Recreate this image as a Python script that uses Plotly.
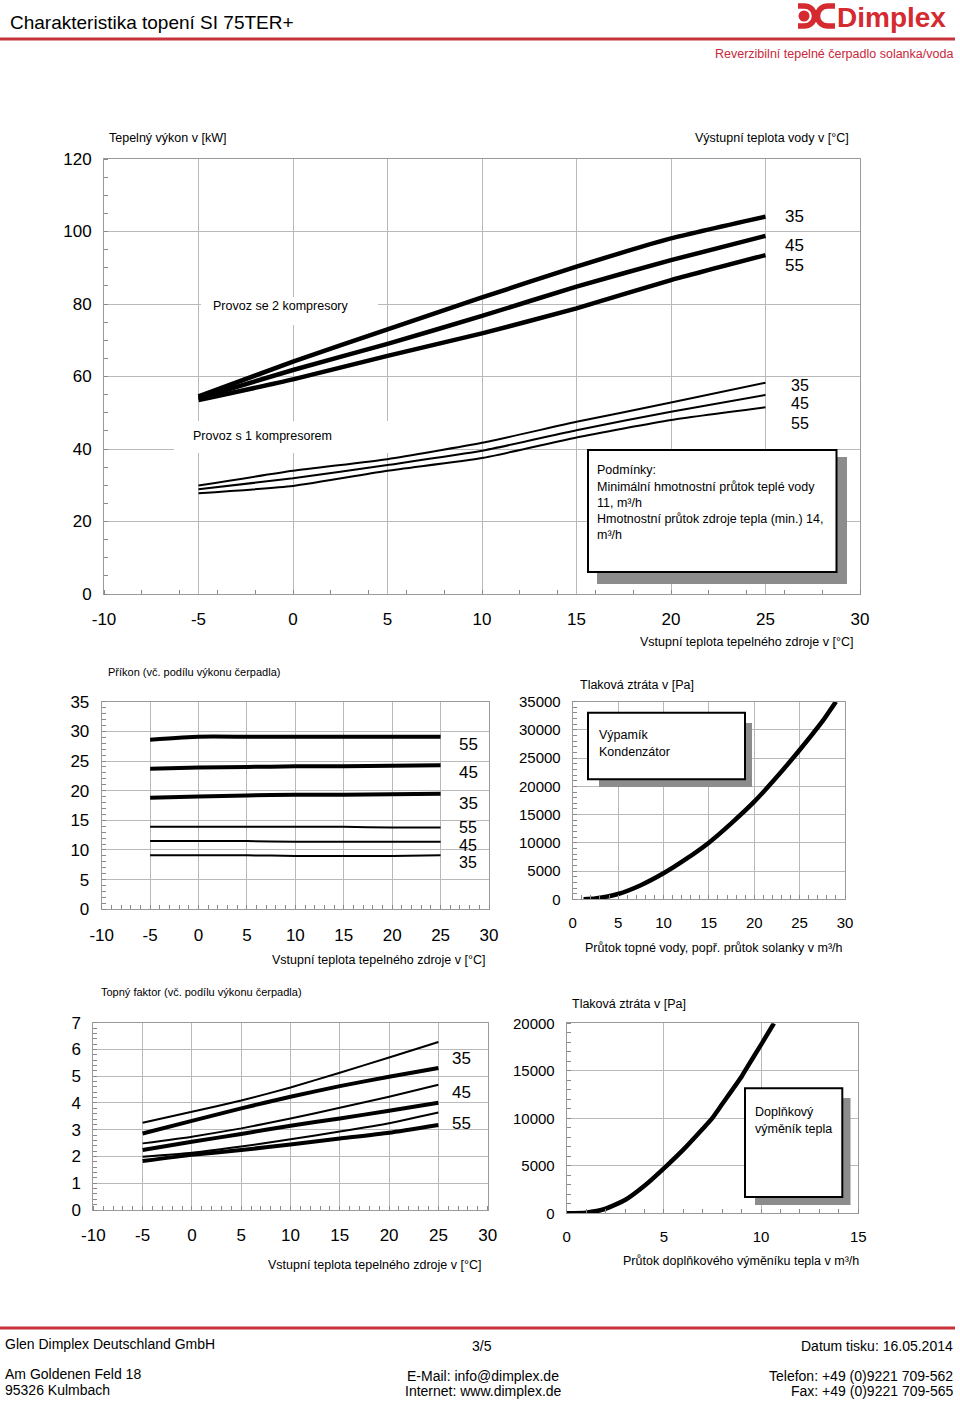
import plotly.graph_objects as go

W, H = 960, 1401
FONT = "Arial, Liberation Sans, sans-serif"

# ---------------- data ----------------
t_src = [-5, 0, 5, 10, 15, 20, 25]
t_ticks = [-10, -5, 0, 5, 10, 15, 20, 25, 30]

# heating capacity [kW], 2 compressors
cap2_35 = [54.5, 64.1, 73.0, 81.8, 90.3, 98.1, 104.1]
cap2_45 = [54.0, 61.8, 69.0, 76.7, 84.8, 92.1, 98.8]
cap2_55 = [53.5, 59.2, 65.7, 71.9, 78.8, 86.6, 93.5]
# heating capacity [kW], 1 compressor
cap1_35 = [29.9, 34.0, 37.2, 41.7, 47.5, 52.8, 58.3]
cap1_45 = [28.9, 31.9, 35.6, 39.5, 45.2, 50.3, 54.9]
cap1_55 = [27.8, 29.8, 34.0, 37.5, 43.2, 48.0, 51.5]
cap_ticks = [0, 20, 40, 60, 80, 100, 120]

# power input [kW]
pin2_55 = [28.6, 29.1, 29.1, 29.1, 29.1, 29.1, 29.1]
pin2_45 = [23.7, 23.9, 24.0, 24.1, 24.1, 24.2, 24.3]
pin2_35 = [18.8, 19.0, 19.2, 19.3, 19.3, 19.4, 19.5]
pin1_55 = [13.9, 13.9, 13.9, 13.9, 13.9, 13.8, 13.8]
pin1_45 = [11.5, 11.5, 11.5, 11.4, 11.4, 11.4, 11.4]
pin1_35 = [9.1, 9.1, 9.1, 9.0, 9.0, 9.0, 9.1]
pin_ticks = [0, 5, 10, 15, 20, 25, 30, 35]

# COP
cop1_35 = [3.26, 3.67, 4.09, 4.58, 5.13, 5.70, 6.28]
cop2_35 = [2.86, 3.33, 3.80, 4.23, 4.63, 4.98, 5.31]
cop1_45 = [2.49, 2.74, 3.05, 3.42, 3.82, 4.23, 4.68]
cop2_45 = [2.24, 2.55, 2.84, 3.15, 3.42, 3.71, 4.01]
cop1_55 = [1.99, 2.14, 2.37, 2.64, 2.93, 3.24, 3.64]
cop2_55 = [1.83, 2.06, 2.24, 2.45, 2.67, 2.89, 3.18]
cop_ticks = [0, 1, 2, 3, 4, 5, 6, 7]

# pressure loss evaporator / condenser
flow_a = [1.2, 2.5, 5, 7.5, 10, 12.5, 15, 17.5, 20, 22.5, 25, 27.5, 29.0]
dp_a = [0, 150, 944, 2500, 4604, 7150, 10034, 13500, 17293, 21700, 26442, 31500, 35000]
flow_a_ticks = [0, 5, 10, 15, 20, 25, 30]
dp_a_ticks = [0, 5000, 10000, 15000, 20000, 25000, 30000, 35000]

# pressure loss additional heat exchanger
flow_b = [0, 1, 2, 3, 4, 5.14, 6, 7, 7.48, 8, 9, 9.17, 10, 10.66]
dp_b = [0, 70, 480, 1400, 2900, 5000, 6700, 8900, 10000, 11500, 14400, 15000, 17750, 20000]
flow_b_ticks = [0, 5, 10, 15]
dp_b_ticks = [0, 5000, 10000, 15000, 20000]

flow_labels = ["35", "45", "55"]


def px(x):
    return x / W


def py(y):
    return 1 - y / H


def lab(v):
    return ("-%g" % abs(v)) if v < 0 else ("%g" % v if abs(v) < 1e5 else str(v))


fig = go.Figure()

thick = dict(color="black", width=4.5, shape="spline", smoothing=0.5)
thin = dict(color="black", width=2, shape="spline", smoothing=0.5)

# top chart
for ys in (cap2_35, cap2_45, cap2_55):
    fig.add_trace(go.Scatter(x=t_src, y=ys, mode="lines", line=thick, xaxis="x", yaxis="y"))
for ys in (cap1_35, cap1_45, cap1_55):
    fig.add_trace(go.Scatter(x=t_src, y=ys, mode="lines", line=thin, xaxis="x", yaxis="y"))
# power input
for ys in (pin2_55, pin2_45, pin2_35):
    fig.add_trace(go.Scatter(x=t_src, y=ys, mode="lines", line=dict(thick, width=4), xaxis="x2", yaxis="y2"))
for ys in (pin1_55, pin1_45, pin1_35):
    fig.add_trace(go.Scatter(x=t_src, y=ys, mode="lines", line=thin, xaxis="x2", yaxis="y2"))
# pressure loss A
fig.add_trace(go.Scatter(x=flow_a, y=dp_a, mode="lines", line=dict(thick, width=4.5), xaxis="x3", yaxis="y3"))
# COP
for ys in (cop1_35, cop1_45, cop1_55):
    fig.add_trace(go.Scatter(x=t_src, y=ys, mode="lines", line=thin, xaxis="x4", yaxis="y4"))
for ys in (cop2_35, cop2_45, cop2_55):
    fig.add_trace(go.Scatter(x=t_src, y=ys, mode="lines", line=dict(thick, width=4), xaxis="x4", yaxis="y4"))
# pressure loss B
fig.add_trace(go.Scatter(x=flow_b, y=dp_b, mode="lines", line=dict(thick, width=4.5), xaxis="x5", yaxis="y5"))


def axis(rng, vals, dom, anchor, minor_dtick, fsize=17, standoff=8):
    return dict(
        range=rng, tickmode="array", tickvals=vals, ticktext=[lab(v) for v in vals],
        domain=dom, anchor=anchor, automargin=False,
        showgrid=True, gridcolor="#b9b9b9", gridwidth=1,
        showline=True, linecolor="#9a9a9a", linewidth=1, mirror=True,
        ticks="", zeroline=False, fixedrange=True,
        tickfont=dict(size=fsize, color="black", family=FONT),
        ticklabelstandoff=standoff,
        minor=dict(ticks="inside", ticklen=4, tickcolor="#8a8a8a", dtick=minor_dtick,
                   tick0=rng[0], showgrid=False, tickmode="linear"),
    )


# plot rectangles in pixels: (left, top, right, bottom)
R1 = (104, 159, 860, 594)
R2 = (101.7, 701.7, 489, 909.3)
R3 = (572.7, 701.7, 845, 899.3)
R4 = (93.3, 1022.7, 487.7, 1210)
R5 = (566.7, 1023.3, 858.3, 1213.3)


def xd(r):
    return [px(r[0]), px(r[2])]


def yd(r):
    return [py(r[3]), py(r[1])]


layout = dict(
    width=W, height=H, margin=dict(l=0, r=0, t=0, b=0, pad=0, autoexpand=False),
    paper_bgcolor="white", plot_bgcolor="white", showlegend=False,
    font=dict(family=FONT, color="black"),
    xaxis=axis([-10, 30], t_ticks, xd(R1), "y", 2, standoff=10),
    yaxis=axis([0, 120], cap_ticks, yd(R1), "x", 5),
    xaxis2=axis([-10, 30], t_ticks, xd(R2), "y2", 1, standoff=10),
    yaxis2=axis([0, 35], pin_ticks, yd(R2), "x2", 1),
    xaxis3=axis([0, 30], flow_a_ticks, xd(R3), "y3", 1, fsize=15, standoff=10),
    yaxis3=axis([0, 35000], dp_a_ticks, yd(R3), "x3", 1000, fsize=15),
    xaxis4=axis([-10, 30], t_ticks, xd(R4), "y4", 1, standoff=10),
    yaxis4=axis([0, 7], cop_ticks, yd(R4), "x4", 0.2),
    xaxis5=axis([0, 15], flow_b_ticks, xd(R5), "y5", 1, fsize=15, standoff=10),
    yaxis5=axis([0, 20000], dp_b_ticks, yd(R5), "x5", 1000, fsize=15),
)
fig.update_layout(**layout)

shapes = []
annotations = []


def rect(x0, y0, x1, y1, fill, line_color=None, lw=0):
    shapes.append(dict(type="rect", xref="paper", yref="paper",
                       x0=px(x0), x1=px(x1), y0=py(y1), y1=py(y0),
                       fillcolor=fill, layer="above",
                       line=dict(color=line_color or fill, width=lw)))


def gap_rect(x0, y0, x1, y1):
    # white label background in the top chart: above gridlines, below curves
    def dx(p):
        return -10 + (p - R1[0]) / (R1[2] - R1[0]) * 40

    def dy(p):
        return (R1[3] - p) / (R1[3] - R1[1]) * 120

    shapes.append(dict(type="rect", xref="x", yref="y", x0=dx(x0), x1=dx(x1), y0=dy(y1), y1=dy(y0),
                       fillcolor="white", layer="between", line=dict(width=0)))


def text(x, y, s, size=12.5, anchor="left", color="black", bold=False, fam=FONT):
    annotations.append(dict(xref="paper", yref="paper", x=px(x), y=py(y), text=("<b>%s</b>" % s) if bold else s,
                            showarrow=False, xanchor=anchor, yanchor="middle",
                            font=dict(size=size, color=color, family=fam)))


def hline(x0, x1, y, color, width):
    shapes.append(dict(type="line", xref="paper", yref="paper", x0=px(x0), x1=px(x1),
                       y0=py(y), y1=py(y), line=dict(color=color, width=width), layer="above"))


def path(pts, color, width, fill=None):
    # pts: list of (cmd, [(x,y),...]) in pixels
    d = ""
    for cmd, ps in pts:
        d += cmd + " ".join("%.5f,%.5f" % (px(a), py(b)) for a, b in ps) + " "
    shapes.append(dict(type="path", xref="paper", yref="paper", path=d.strip(),
                       line=dict(color=color, width=width), fillcolor=fill, layer="above"))


RED = "#d42a30"
LX = 12  # logo symbol horizontal shift

# header
text(8, 22, "Charakteristika topení SI 75TER+", size=19)
text(948, 18, "Dimplex", size=28, anchor="right", color=RED, bold=True)
# logo symbol
path([("M", [(786 + LX, 6)]), ("L", [(792 + LX, 6)]),
      ("C", [(806 + LX, 6), (806 + LX, 26), (792 + LX, 26)]), ("L", [(786 + LX, 26)])], RED, 5.5)
shapes.append(dict(type="circle", xref="paper", yref="paper", x0=px(786.5 + LX), x1=px(797.5 + LX),
                   y0=py(21.5), y1=py(10.5), fillcolor=RED, line=dict(color=RED, width=0), layer="above"))
path([("M", [(823 + LX, 6)]), ("L", [(816 + LX, 6)]),
      ("C", [(802 + LX, 6), (802 + LX, 26), (816 + LX, 26)]), ("L", [(823 + LX, 26)])], RED, 5.5)
hline(0, 955, 39, "#c8323a", 3)
text(955, 54, "Reverzibilní tepelné čerpadlo solanka/voda", size=12.5, anchor="right", color="#c8283a")

# footer
hline(0, 955, 1328, "#c8323a", 3)
text(3, 1344, "Glen Dimplex Deutschland GmbH", size=14)
text(482, 1346, "3/5", size=14, anchor="center")
text(955, 1346, "Datum tisku: 16.05.2014", size=14, anchor="right")
text(3, 1374, "Am Goldenen Feld 18", size=14)
text(3, 1390, "95326 Kulmbach", size=14)
text(483, 1376, "E-Mail: info@dimplex.de", size=14, anchor="center")
text(483, 1391, "Internet: www.dimplex.de", size=14, anchor="center")
text(955, 1376, "Telefon: +49 (0)9221 709-562", size=14, anchor="right")
text(955, 1391, "Fax: +49 (0)9221 709-565", size=14, anchor="right")

# top chart texts
text(107, 138, "Tepelný výkon v [kW]")
text(851, 138, "Výstupní teplota vody v [°C]", anchor="right")
text(855, 642, "Vstupní teplota tepelného zdroje v [°C]", anchor="right")
gap_rect(201, 297, 378, 325)
text(211, 306, "Provoz se 2 kompresory")
gap_rect(174, 421, 450, 453)
text(191, 436, "Provoz s 1 kompresorem")
for lb, yy in zip(flow_labels, (217, 245, 265)):
    text(783, yy, lb, size=17)
for lb, yy in zip(flow_labels, (386, 403, 423)):
    text(789, yy, lb, size=16)
rect(597, 457, 847, 584, "#8c8c8c")
rect(588, 450, 836.5, 572, "white", "black", 2)
for s, yy in zip(["Podmínky:", "Minimální hmotnostní průtok teplé vody", "11, m³/h",
                  "Hmotnostní průtok zdroje tepla (min.) 14,", "m³/h"],
                 (470, 486.5, 502.5, 519, 535)):
    text(595, yy, s, size=12.5)

# power input chart texts
text(106, 672, "Příkon (vč. podílu výkonu čerpadla)", size=11)
text(487, 960, "Vstupní teplota tepelného zdroje v [°C]", anchor="right")
for lb, yy, fs in zip(["55", "45", "35", "55", "45", "35"], (744, 772, 803, 827, 845, 863),
                      (17, 17, 17, 16, 16, 16)):
    text(457, yy, lb, size=fs)

# pressure loss A texts
text(578, 685, "Tlaková ztráta v [Pa]")
text(583, 948, "Průtok topné vody, popř. průtok solanky v m³/h", size=12.5)
rect(599, 723, 752, 787, "#8c8c8c")
rect(588, 712.7, 745, 779.3, "white", "black", 2)
text(597, 735, "Výpamík", size=12.5)
text(597, 752, "Kondenzátor", size=12.5)

# COP chart texts
text(99, 992, "Topný faktor (vč. podílu výkonu čerpadla)", size=11)
text(483, 1265, "Vstupní teplota tepelného zdroje v [°C]", anchor="right")
for lb, yy in zip(flow_labels, (1058, 1092, 1123)):
    text(450, yy, lb, size=17)

# pressure loss B texts
text(570, 1004, "Tlaková ztráta v [Pa]")
text(621, 1261, "Průtok doplňkového výměníku tepla v m³/h", size=12.5)
rect(755, 1098, 850.5, 1205, "#8c8c8c")
rect(745, 1088.3, 842.3, 1197, "white", "black", 2)
text(753, 1112, "Doplňkový", size=12.5)
text(753, 1129, "výměník tepla", size=12.5)

fig.update_layout(shapes=shapes, annotations=annotations)
fig.write_html("out.html", config={"displayModeBar": False, "staticPlot": True},
               post_script="document.body.style.margin='0';document.body.style.overflow='hidden';")
